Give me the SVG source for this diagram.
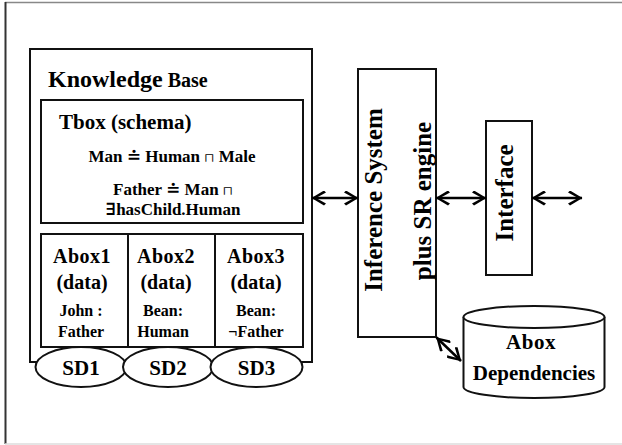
<svg xmlns="http://www.w3.org/2000/svg" width="622" height="445" viewBox="0 0 622 445">
  <style>
    .box { fill: #fff; stroke: #111; stroke-width: 2; }
    .t { font-family: "Liberation Serif", "Times New Roman", "DejaVu Serif", serif; font-weight: bold; fill: #000; }
    .sym { font-size: 12px; font-weight: normal; }
    .link { stroke: #000; stroke-width: 2.5; fill: none; marker-start: url(#head); marker-end: url(#head); }
  </style>
  <defs>
    <!-- barbed chevron arrowhead, tip at refX -->
    <marker id="head" markerUnits="userSpaceOnUse" viewBox="0 0 15 15" refX="14" refY="7.5" markerWidth="15" markerHeight="15" orient="auto-start-reverse">
      <path d="M14.5,7.5 L2,0 L0,2 L10,7.5 L0,13 L2,15 Z" fill="#000"/>
    </marker>
  </defs>

  <!-- page frame -->
  <rect x="0" y="0" width="622" height="445" fill="#fff"/>
  <line x1="5" y1="2.5" x2="622" y2="2.5" stroke="#888" stroke-width="1.5"/>
  <line x1="5.5" y1="2" x2="5.5" y2="444" stroke="#333" stroke-width="2"/>
  <line x1="5" y1="444" x2="622" y2="444" stroke="#ddd" stroke-width="1.5"/>

  <!-- knowledge base -->
  <g id="knowledge-base">
    <rect class="box" x="30" y="49" width="282" height="313"/>
    <text class="t" x="48" y="87"><tspan font-size="24">Knowledge</tspan><tspan font-size="20"> Base</tspan></text>
  </g>

  <g id="tbox">
    <rect class="box" x="41" y="100" width="262" height="123"/>
    <text class="t" x="59" y="129" font-size="21">Tbox (schema)</text>
    <text class="t" x="172" y="162" font-size="17" text-anchor="middle">Man ≐ Human <tspan class="sym">⊓</tspan> Male</text>
    <text class="t" x="173" y="195" font-size="17" text-anchor="middle">Father ≐ Man <tspan class="sym">⊓</tspan></text>
    <text class="t" x="173" y="215" font-size="17" text-anchor="middle">∃hasChild.Human</text>
  </g>

  <g id="abox1">
    <rect class="box" x="41" y="234" width="87" height="113"/>
    <text class="t" x="82" y="263" font-size="20" text-anchor="middle" letter-spacing="0.5">Abox1</text>
    <text class="t" x="82" y="289" font-size="20" text-anchor="middle">(data)</text>
    <text class="t" x="81" y="316" font-size="16" text-anchor="middle">John :</text>
    <text class="t" x="81" y="337" font-size="16" text-anchor="middle">Father</text>
  </g>
  <g id="abox2">
    <rect class="box" x="128" y="234" width="87" height="113"/>
    <text class="t" x="166" y="263" font-size="20" text-anchor="middle" letter-spacing="0.5">Abox2</text>
    <text class="t" x="166" y="289" font-size="20" text-anchor="middle">(data)</text>
    <text class="t" x="163" y="316" font-size="16" text-anchor="middle">Bean:</text>
    <text class="t" x="163" y="337" font-size="16" text-anchor="middle">Human</text>
  </g>
  <g id="abox3">
    <rect class="box" x="215" y="234" width="88" height="113"/>
    <text class="t" x="256" y="263" font-size="20" text-anchor="middle" letter-spacing="0.5">Abox3</text>
    <text class="t" x="256" y="289" font-size="20" text-anchor="middle">(data)</text>
    <text class="t" x="256" y="316" font-size="16" text-anchor="middle">Bean:</text>
    <text class="t" x="256" y="337" font-size="16" text-anchor="middle">¬Father</text>
  </g>

  <g id="sd1">
    <ellipse class="box" cx="81" cy="367" rx="45.5" ry="20"/>
    <text class="t" x="81" y="375" font-size="21" text-anchor="middle">SD1</text>
  </g>
  <g id="sd2">
    <ellipse class="box" cx="168" cy="367" rx="45" ry="20"/>
    <text class="t" x="168" y="375" font-size="21" text-anchor="middle">SD2</text>
  </g>
  <g id="sd3">
    <ellipse class="box" cx="256.5" cy="367" rx="46" ry="20"/>
    <text class="t" x="256.5" y="375" font-size="21" text-anchor="middle">SD3</text>
  </g>

  <!-- inference system -->
  <g id="inference">
    <rect class="box" x="358" y="69" width="78" height="268"/>
    <text class="t" font-size="25" text-anchor="middle" transform="translate(382,200) rotate(-90)">Inference System</text>
    <text class="t" font-size="25" text-anchor="middle" transform="translate(431,201) rotate(-90)">plus SR engine</text>
  </g>

  <g id="interface">
    <rect class="box" x="486" y="121" width="46" height="154"/>
    <text class="t" font-size="25" text-anchor="middle" transform="translate(513,193) rotate(-90)">Interface</text>
  </g>

  <g id="abox-dependencies">
    <path class="box" d="M463.5,317 L463.5,387 A70.5,11 0 0 0 604.5,387 L604.5,317"/>
    <ellipse class="box" cx="534" cy="317" rx="70.5" ry="11"/>
    <text class="t" x="531" y="349" font-size="21" text-anchor="middle" letter-spacing="0.5">Abox</text>
    <text class="t" x="534" y="380" font-size="21" text-anchor="middle">Dependencies</text>
  </g>

  <!-- connectors -->
  <g id="connectors">
    <line class="link" x1="312" y1="198" x2="358" y2="198"/>
    <line class="link" x1="436" y1="198" x2="486" y2="198"/>
    <line class="link" x1="532" y1="198" x2="582" y2="198"/>
    <line class="link" x1="436.5" y1="337.5" x2="461" y2="361"/>
  </g>
</svg>
